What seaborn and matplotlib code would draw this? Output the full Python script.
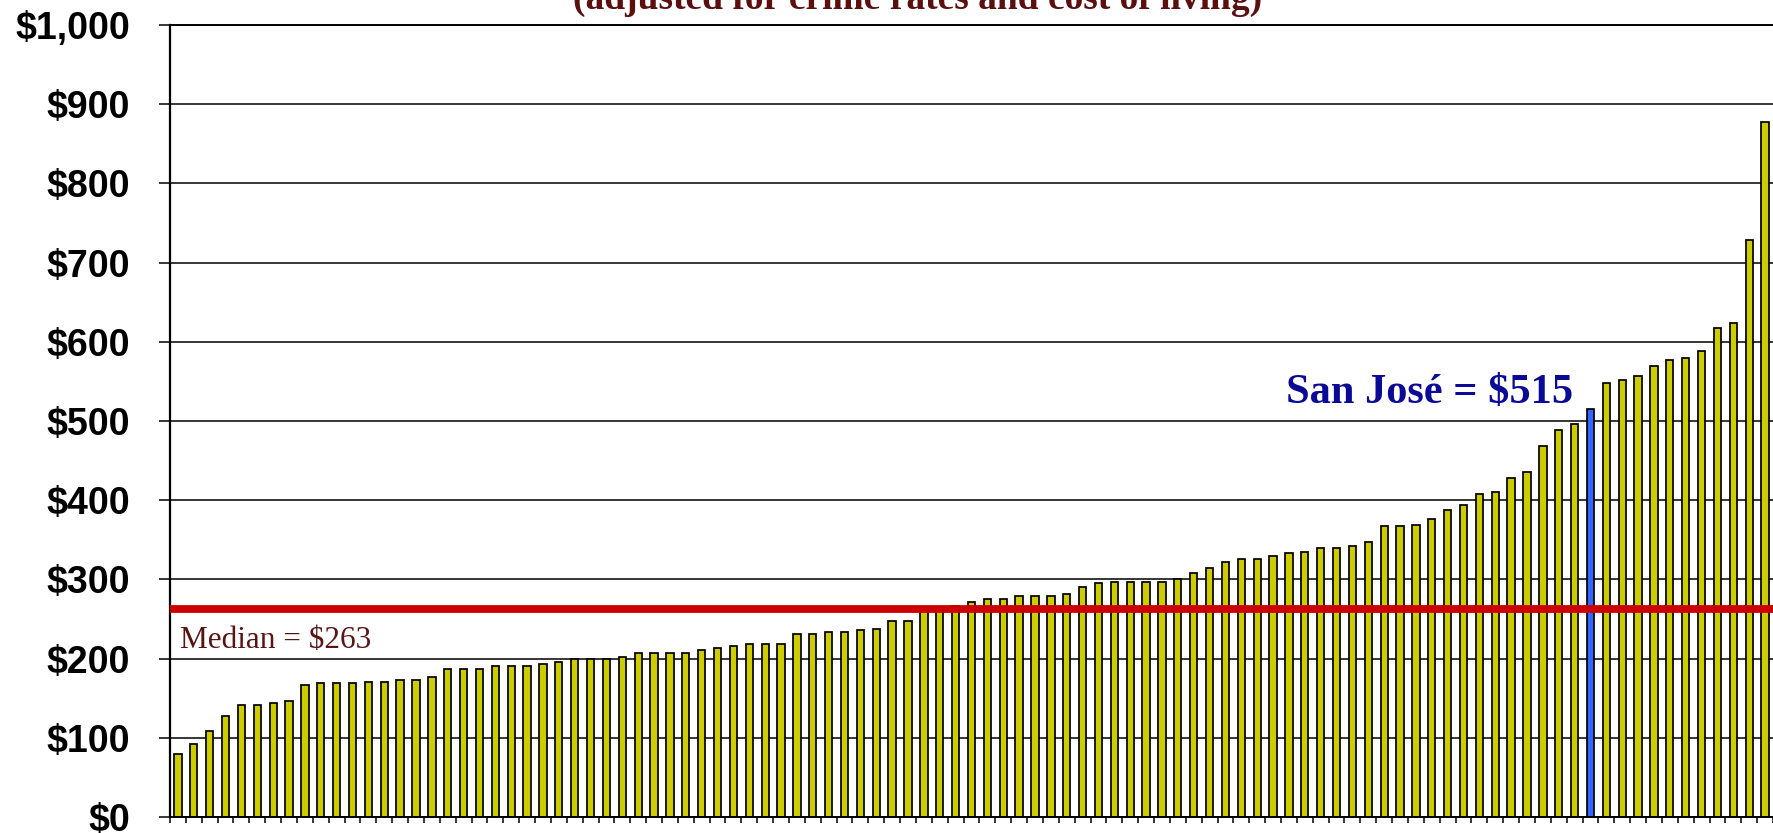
import numpy as np
import pandas as pd
import matplotlib
matplotlib.use("Agg")
import matplotlib.pyplot as plt
import seaborn as sns

# Per-capita spending by city, sorted ascending (adjusted for crime rates and cost of living)
spending = [
    79, 92, 108, 128, 142, 142, 144, 146, 167, 169,
    169, 169, 171, 171, 173, 173, 177, 187, 187, 187,
    191, 191, 191, 193, 196, 200, 200, 200, 202, 207,
    207, 207, 207, 211, 214, 216, 218, 218, 218, 231,
    231, 234, 234, 236, 237, 248, 248, 260, 262, 266,
    271, 275, 275, 279, 279, 279, 281, 290, 295, 297,
    297, 297, 297, 301, 308, 315, 322, 326, 326, 329,
    333, 335, 340, 340, 342, 347, 367, 367, 369, 376,
    387, 394, 408, 410, 428, 435, 468, 489, 496, 515,
    548, 552, 557, 570, 577, 579, 588, 618, 624, 728,
    877,
]
ranks = [str(i + 1) for i in range(len(spending))]
highlight_rank = "90"          # San José
median_value = 263
y_ticks = list(range(0, 1001, 100))
y_tick_labels = [f"${v:,}" for v in y_ticks]

title_text = "(adjusted for crime rates and cost of living)"
median_text = f"Median = ${median_value}"

df = pd.DataFrame({
    "rank": ranks,
    "spending": spending,
    "group": ["San José" if r == highlight_rank else "Other" for r in ranks],
})
sj_value = df.loc[df["rank"] == highlight_rank, "spending"].iloc[0]
sj_pos = ranks.index(highlight_rank)

sns.set_theme(style="white")
plt.rcParams["font.family"] = ["Liberation Sans", "DejaVu Sans"]

W, H = 1773, 833
fig = plt.figure(figsize=(W / 100, H / 100), dpi=100)
ax = fig.add_axes([170 / W, 1 - 817 / H, (W - 170) / W, (817 - 25) / H])

sns.barplot(
    data=df, x="rank", y="spending", hue="group", order=ranks,
    palette={"Other": "#CCCC00", "San José": "#3366FF"},
    dodge=False, width=0.46, edgecolor="black", linewidth=1.25,
    legend=False, saturation=1, ax=ax,
)

ax.set_ylim(0, 1000)
ax.set_xlim(-0.5, len(ranks) - 0.5)
ax.set_axisbelow(True)
ax.yaxis.grid(True, color="black", linewidth=1.1)
ax.xaxis.grid(False)

ax.set_yticks(y_ticks)
ax.set_yticklabels(y_tick_labels, fontsize=27, fontweight="bold", color="black",
                   family=["Liberation Sans", "DejaVu Sans"])
ax.set_xticks(np.arange(-0.5, len(ranks), 1.0))
ax.set_xticklabels([])
ax.tick_params(axis="y", direction="out", length=8, width=1.1, pad=21,
               color="black", left=True)
ax.tick_params(axis="x", direction="out", length=4, width=1.1,
               color="black", bottom=True)
ax.set_xlabel("")
ax.set_ylabel("")

ax.spines["right"].set_visible(False)
ax.spines["top"].set_color("black")
ax.spines["top"].set_linewidth(1.4)
ax.spines["left"].set_color("black")
ax.spines["left"].set_linewidth(1.6)
ax.spines["bottom"].set_color("black")
ax.spines["bottom"].set_linewidth(1.4)

# Median reference line
ax.axhline(median_value, color="#CC0000", linewidth=5.6, zorder=5)
ax.text(0.1, 214, median_text, ha="left", va="baseline", fontsize=22.5,
        family=["Liberation Serif", "DejaVu Serif"], color="#5A1414", zorder=6)

# San José callout
ax.text(sj_pos - 1.1, 523, f"San José = ${sj_value}", ha="right", va="baseline",
        fontsize=30.5, fontweight="bold",
        family=["Liberation Serif", "DejaVu Serif"], color="#0A0A96", zorder=6)

fig.text(918 / W, 1 - 9 / H, title_text, ha="center", va="baseline",
         fontsize=27, fontweight="bold",
         family=["Liberation Serif", "DejaVu Serif"], color="#5C0F0F")

fig.savefig("out.png", dpi=100, facecolor="white")
